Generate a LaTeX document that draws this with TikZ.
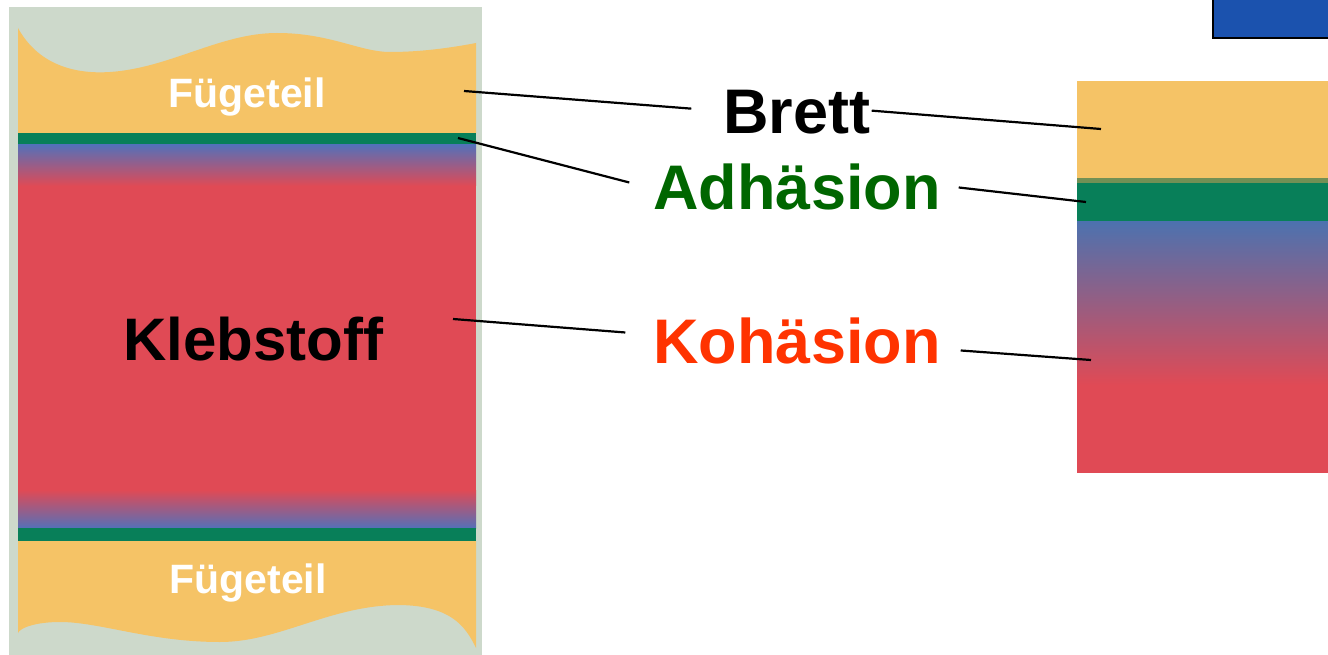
\documentclass[tikz,border=0pt]{standalone}
\usepackage{fontspec}
\setmainfont{Liberation Sans}
\definecolor{panelgrey}{HTML}{CDD9CB}
\definecolor{wood}{HTML}{F5C366}
\definecolor{gluegreen}{HTML}{087F59}
\definecolor{glueblue}{HTML}{5570B8}
\definecolor{gluered}{HTML}{E04A55}
\definecolor{adhgreen}{HTML}{006600}
\definecolor{kohred}{HTML}{FF3300}
\definecolor{boxblue}{HTML}{1B52AE}
\begin{document}
\begin{tikzpicture}[x=1pt, y=-1pt,
    term/.style={font=\bfseries\fontsize{63}{70}\selectfont, inner sep=0pt, anchor=base},
    partname/.style={font=\bfseries\fontsize{41}{46}\selectfont, text=white, inner sep=0pt, anchor=base},
    lead/.style={line width=2.2pt, black}]
    \clip (0,0) rectangle (1328,655);
    \fill[white] (0,0) rectangle (1328,655);

    % Draw the left panel
    \fill[panelgrey] (9,7) rectangle (482,660);
    \fill[wood] (18,28) .. controls (40,68) and (80,74) .. (110,72)
        .. controls (170,68) and (220,33) .. (277,33)
        .. controls (330,33) and (360,52) .. (390,52)
        .. controls (420,52) and (450,48) .. (476,43)
        -- (476,133) -- (18,133) -- cycle;
    \fill[wood] (18,541) -- (476,541) -- (476,648)
        .. controls (465,625) and (450,606) .. (400,605)
        .. controls (330,605) and (280,642) .. (220,642)
        .. controls (150,642) and (100,622) .. (60,622)
        .. controls (35,622) and (20,628) .. (18,633) -- cycle;

    % Draw the glue layer
    \fill[gluegreen] (18,133) rectangle (476,145);
    \shade[top color=glueblue, bottom color=gluered] (18,145) rectangle (476,186);
    \fill[gluered] (18,186) rectangle (476,490);
    \shade[top color=gluered, bottom color=glueblue] (18,490) rectangle (476,528);
    \fill[gluegreen] (18,528) rectangle (476,541);

    \node[partname] (fugetop) at (247,108) {Fügeteil};
    \node[partname] (fugebottom) at (248,593) {Fügeteil};
    \node[term, font=\bfseries\fontsize{60}{66}\selectfont] (glue) at (253,360) {Klebstoff};

    % Draw the strip on the right
    \fill[wood] (1077,81) rectangle (1328,178);
    \fill[black!20!gluegreen!55!wood] (1077,178) rectangle (1328,183);
    \fill[gluegreen] (1077,183) rectangle (1328,222);
    \shade[top color=glueblue!90!gluegreen, middle color=glueblue!45!gluered, bottom color=gluered]
        (1077,222) rectangle (1328,385);
    \fill[gluered] (1077,385) rectangle (1328,473);

    % Draw the blue box in the corner
    \draw[fill=boxblue, line width=1.5pt] (1213,-5) rectangle (1335,38);

    % Draw the terms
    \node[term] (brett) at (797,134) {Brett};
    \node[term, text=adhgreen] (adh) at (797,210) {Adhäsion};
    \node[term, text=kohred] (koh) at (797,363) {Kohäsion};

    % Ends of the lines on the panels
    \coordinate (woodpt) at (464,91);
    \coordinate (edgept) at (458,138);
    \coordinate (corept) at (453,319);
    \coordinate (stripwood) at (1101,129);
    \coordinate (stripgreen) at (1086,202);
    \coordinate (stripred) at (1091,360);

    % Draw the lines
    \draw[lead] (woodpt) -- ([xshift=-32pt, yshift=4pt]brett.west);
    \draw[lead] (edgept) -- ([xshift=-24pt, yshift=5pt]adh.west);
    \draw[lead] (corept) -- ([xshift=-28pt, yshift=8pt]koh.west);
    \draw[lead] ([xshift=1pt, yshift=2pt]brett.east) -- (stripwood);
    \draw[lead] ([xshift=18pt]adh.east) -- (stripgreen);
    \draw[lead] ([xshift=20pt, yshift=-10pt]koh.east) -- (stripred);
\end{tikzpicture}
\end{document}
